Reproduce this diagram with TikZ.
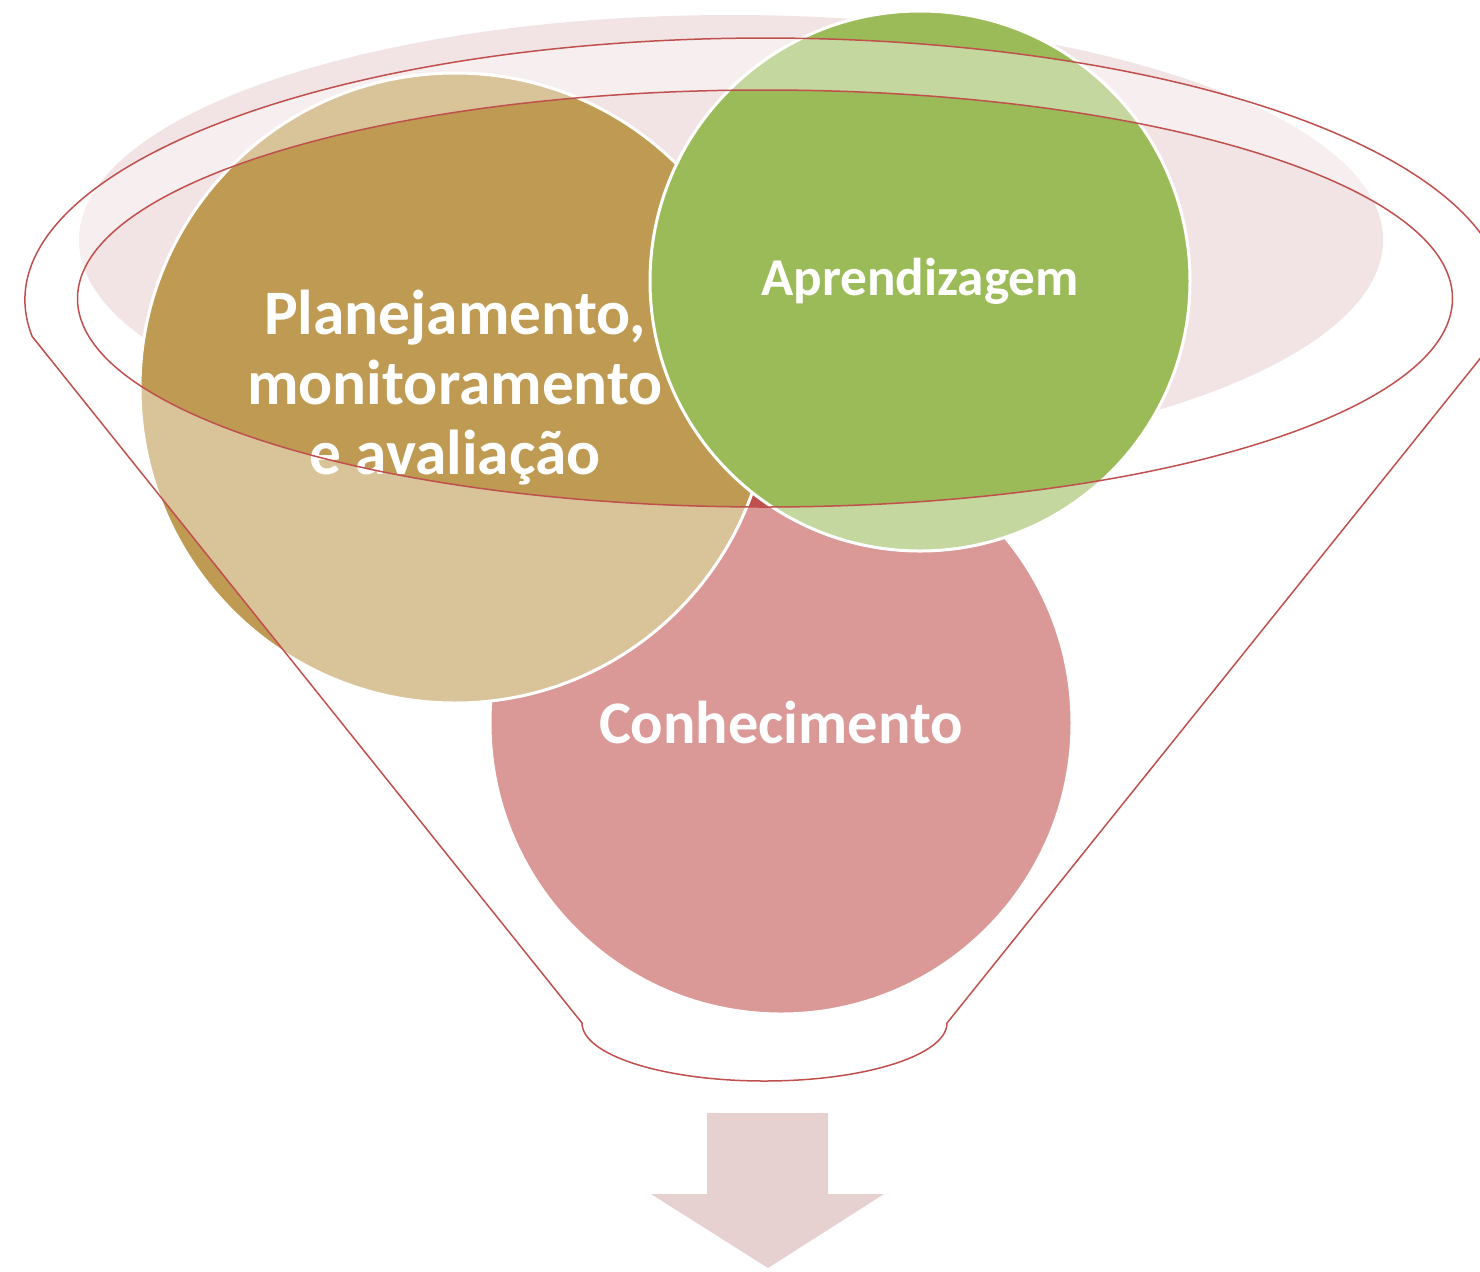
\documentclass[tikz,border=0pt]{standalone}
\usepackage{fontspec}
\setmainfont{Carlito}

\definecolor{tanball}{RGB}{190,154,82}
\definecolor{leafball}{RGB}{155,187,89}
\definecolor{roseball}{RGB}{192,80,77}
\definecolor{rimred}{RGB}{192,80,77}
\definecolor{backpink}{RGB}{242,228,229}
\definecolor{arrowpink}{RGB}{231,208,208}

\tikzset{
  ball/.style={circle, draw=white, line width=1.5pt, inner sep=0pt, text=white, align=center},
  glass/.style={fill=white, fill opacity=0.42, draw=rimred, line width=0.75pt, even odd rule}
}

\begin{document}
\begin{tikzpicture}[x=0.5pt,y=-0.5pt]
        \useasboundingbox (0,0) rectangle (1480,1271);

        % Back of the funnel
        \fill[backpink] (731,240) ellipse[x radius=652, y radius=225];

        % Circles
        \node[ball, fill=roseball, minimum size=291pt, font=\bfseries\fontsize{30.2}{35}\selectfont] (conhecimento) at (781,723) {Conhecimento};
        \node[ball, fill=tanball, minimum size=315pt, font=\bfseries\fontsize{31.7}{35}\selectfont] (planejamento) at (455,388) {Planejamento,\\monitoramento\\e avaliação};
        \node[ball, fill=leafball, minimum size=270pt, font=\bfseries\fontsize{26.6}{30}\selectfont] (aprendizagem) at (920,281) {Aprendizagem};

        % Funnel with its opening
        \path[glass] (32.2,336.5) arc[start angle=172, end angle=368, x radius=740, y radius=262]
                -- (947,1023) arc[start angle=0, end angle=180, x radius=182.5, y radius=58] -- cycle
                (765,298.5) ellipse[x radius=687.5, y radius=208.5];

        % Arrow below
        \fill[arrowpink] (707,1113) -- (828,1113) -- (828,1194) -- (884,1194) -- (768,1268)
                -- (651,1194) -- (707,1194) -- cycle;
    \end{tikzpicture}
\end{document}
